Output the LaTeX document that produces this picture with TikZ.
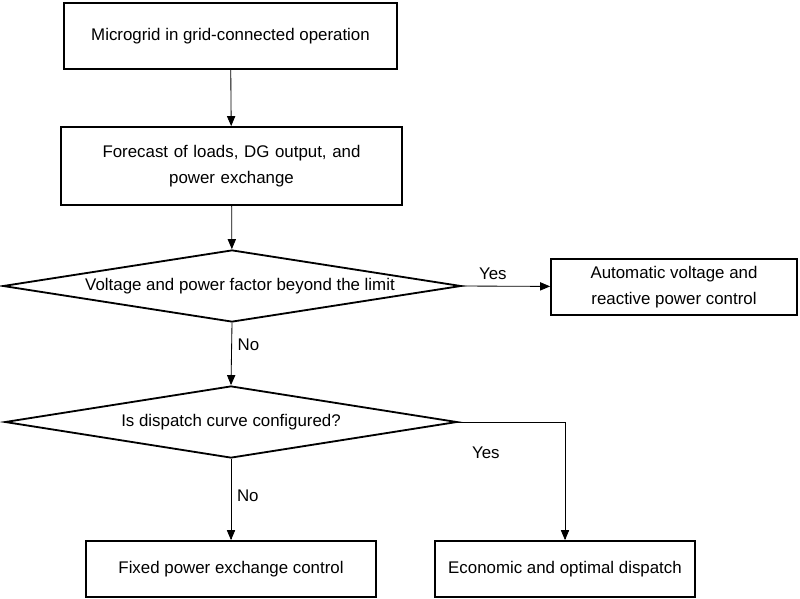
\documentclass[tikz,border=0pt]{standalone}
\usepackage{fontspec}
\setmainfont{Liberation Sans}
\usepackage{tikz}
\usetikzlibrary{shapes.geometric, arrows}
\tikzstyle{process} = [rectangle, draw=black, line width=1.3pt, fill=white, text centered, align=center, font=\fontsize{12}{19}\selectfont]
\tikzstyle{decision} = [diamond, aspect=7, inner sep=0pt, draw=black, line width=1.3pt, fill=white, text centered, font=\fontsize{12}{19}\selectfont]
\tikzstyle{arrow} = [line width=0.6pt,-triangle 45]
\tikzstyle{lbl} = [font=\fontsize{12}{14}\selectfont, inner sep=2pt]

\begin{document}
\begin{tikzpicture}[x=0.025cm, y=-0.025cm]
    \useasboundingbox (0,0) rectangle (800,598);
    \node (start) [process, minimum width=8.33cm, minimum height=1.65cm] at (230.5,36) {Microgrid in grid-connected operation};
    \node (forecast) [process, minimum width=8.53cm, minimum height=1.95cm, text width=7.2cm] at (231.5,166) {Forecast of loads, DG output, and\\power exchange};
    \node (limit) [decision, minimum width=11.45cm, minimum height=1.8cm] at (232,286) {\hspace{0.4cm}Voltage and power factor beyond the limit};
    \node (avc) [process, minimum width=6.15cm, minimum height=1.4cm] at (674,287) {Automatic voltage and\\reactive power control};
    \node (curve) [decision, minimum width=11.3cm, minimum height=1.8cm] at (231,422) {Is dispatch curve configured?};
    \node (fixed) [process, minimum width=7.25cm, minimum height=1.4cm] at (231,569) {Fixed power exchange control};
    \node (econ) [process, minimum width=6.5cm, minimum height=1.4cm] at (565,569) {Economic and optimal dispatch};

    \draw [arrow] (start) -- (forecast);
    \draw [arrow] (forecast) -- (limit);
    \draw [arrow] (limit.east) -- node[lbl, pos=0.35, above=2pt] {Yes} (avc);
    \draw [arrow] (limit.south) -- node[lbl, pos=0.35, right=2pt] {No} (curve.north);
    \draw [arrow] (curve.south) -- node[lbl, pos=0.45, right=2pt] {No} (fixed);
    \draw [arrow] (curve.east) -| node[lbl, pos=0.13, anchor=north, yshift=-0.55cm] {Yes} (econ.north);
\end{tikzpicture}
\end{document}
